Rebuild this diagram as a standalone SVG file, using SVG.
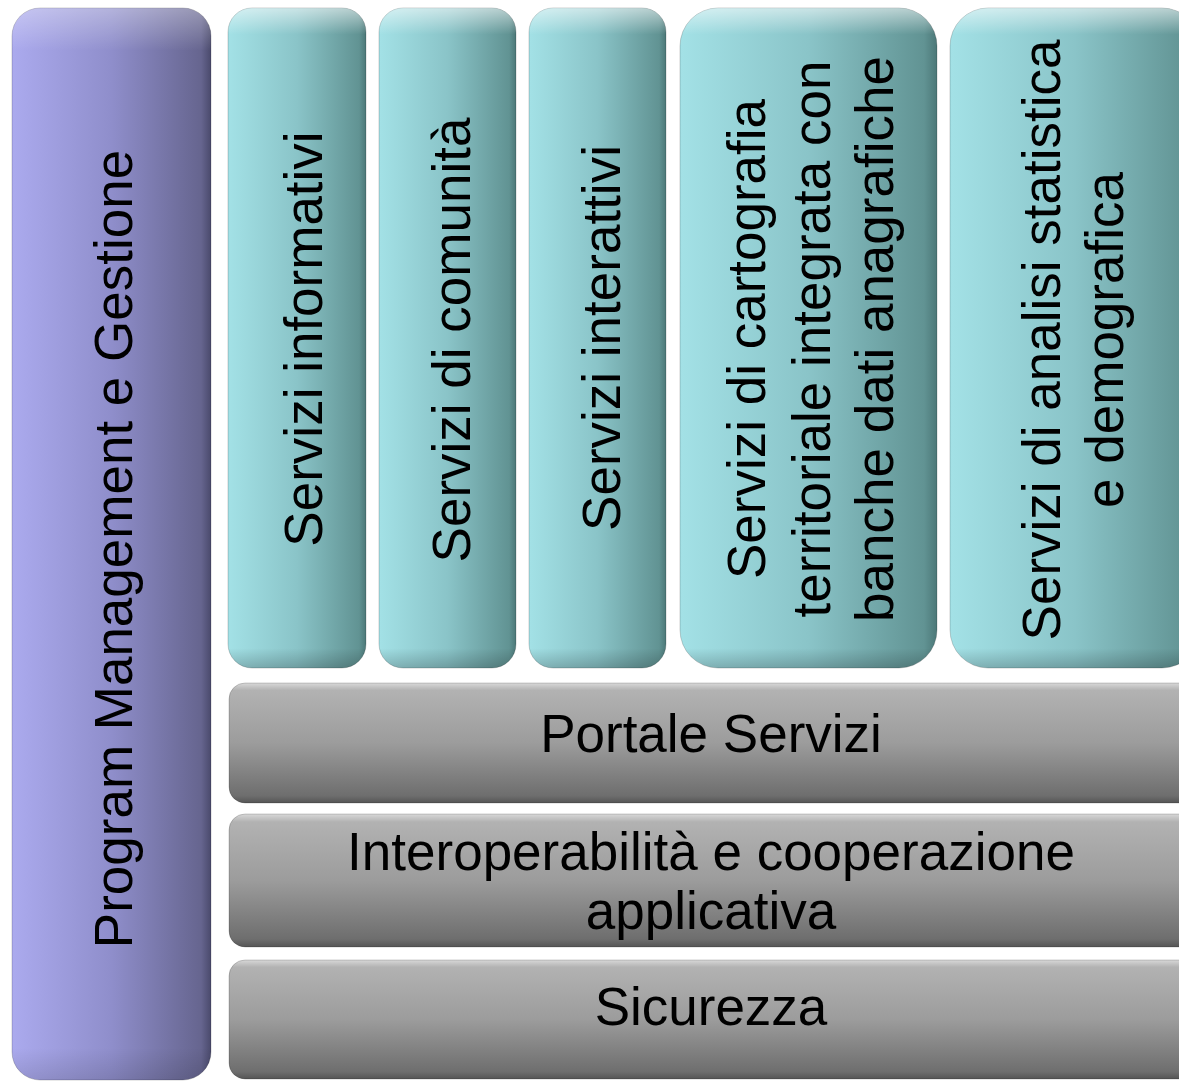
<svg xmlns="http://www.w3.org/2000/svg" width="1179" height="1084" viewBox="0 0 1179 1084">
<defs>
<linearGradient id="gPurple" x1="0" y1="0" x2="1" y2="0">
<stop offset="0" stop-color="#abaaee"/>
<stop offset="0.5" stop-color="#8f8ecb"/>
<stop offset="0.95" stop-color="#66658f"/>
<stop offset="1" stop-color="#4a4a6c"/>
</linearGradient>
<linearGradient id="gTeal" x1="0" y1="0" x2="1" y2="0">
<stop offset="0" stop-color="#a3e1e6"/>
<stop offset="0.5" stop-color="#8ac4c8"/>
<stop offset="0.95" stop-color="#619393"/>
<stop offset="1" stop-color="#4c7878"/>
</linearGradient>
<linearGradient id="gGrey" x1="0" y1="0" x2="0" y2="1">
<stop offset="0" stop-color="#d8d8d8"/>
<stop offset="0.06" stop-color="#b2b2b2"/>
<stop offset="0.5" stop-color="#9c9c9c"/>
<stop offset="0.94" stop-color="#6e6e6e"/>
<stop offset="1" stop-color="#555"/>
</linearGradient>
<linearGradient id="gHi" x1="0" y1="0" x2="0" y2="1">
<stop offset="0" stop-color="#fff" stop-opacity="0.55"/>
<stop offset="0.04" stop-color="#fff" stop-opacity="0"/>
<stop offset="0.97" stop-color="#000" stop-opacity="0"/>
<stop offset="1" stop-color="#000" stop-opacity="0.2"/>
</linearGradient>
</defs>
<style>
.t{font-family:"Liberation Sans",Arial,sans-serif;font-size:53px;fill:#000;text-anchor:middle}
.edge{stroke:#000;stroke-opacity:0.18;stroke-width:1}
</style>
<g id="program-management">
<rect x="12" y="8" width="199" height="1072" rx="28" fill="url(#gPurple)" class="edge"/>
<rect x="12" y="8" width="199" height="1072" rx="28" fill="url(#gHi)" opacity="0.6"/>
<text class="t" transform="translate(132,549) rotate(-90)">Program Management e Gestione</text>
</g>
<g id="servizi-informativi">
<rect x="228" y="8" width="138" height="660" rx="24" fill="url(#gTeal)" class="edge"/>
<rect x="228" y="8" width="138" height="660" rx="24" fill="url(#gHi)"/>
<text class="t" transform="translate(322,339) rotate(-90)">Servizi informativi</text>
</g>
<g id="servizi-comunita">
<rect x="379" y="8" width="137" height="660" rx="24" fill="url(#gTeal)" class="edge"/>
<rect x="379" y="8" width="137" height="660" rx="24" fill="url(#gHi)"/>
<text class="t" transform="translate(470,340) rotate(-90)">Servizi di comunità</text>
</g>
<g id="servizi-interattivi">
<rect x="529" y="8" width="137" height="660" rx="24" fill="url(#gTeal)" class="edge"/>
<rect x="529" y="8" width="137" height="660" rx="24" fill="url(#gHi)"/>
<text class="t" transform="translate(620,338) rotate(-90)">Servizi interattivi</text>
</g>
<g id="servizi-cartografia">
<rect x="680" y="8" width="257" height="660" rx="38" fill="url(#gTeal)" class="edge"/>
<rect x="680" y="8" width="257" height="660" rx="38" fill="url(#gHi)"/>
<text class="t" transform="translate(765,339) rotate(-90)">Servizi di cartografia</text>
<text class="t" transform="translate(830,339) rotate(-90)">territoriale integrata con</text>
<text class="t" transform="translate(893,339) rotate(-90)">banche dati anagrafiche</text>
</g>
<g id="servizi-analisi">
<rect x="950" y="8" width="250" height="660" rx="38" fill="url(#gTeal)" class="edge"/>
<rect x="950" y="8" width="250" height="660" rx="38" fill="url(#gHi)"/>
<text class="t" transform="translate(1060,340) rotate(-90)">Servizi di analisi statistica</text>
<text class="t" transform="translate(1123,340) rotate(-90)">e demografica</text>
</g>
<g id="portale-servizi">
<rect x="229" y="683" width="966" height="120" rx="16" fill="url(#gGrey)" class="edge"/>
<text class="t" x="711" y="752">Portale Servizi</text>
</g>
<g id="interoperabilita">
<rect x="229" y="814" width="966" height="133" rx="16" fill="url(#gGrey)" class="edge"/>
<text class="t" x="711" y="870">Interoperabilità e cooperazione</text>
<text class="t" x="711" y="929">applicativa</text>
</g>
<g id="sicurezza">
<rect x="229" y="960" width="966" height="119" rx="16" fill="url(#gGrey)" class="edge"/>
<text class="t" x="711" y="1025">Sicurezza</text>
</g>
<g id="connectors"/>
</svg>
